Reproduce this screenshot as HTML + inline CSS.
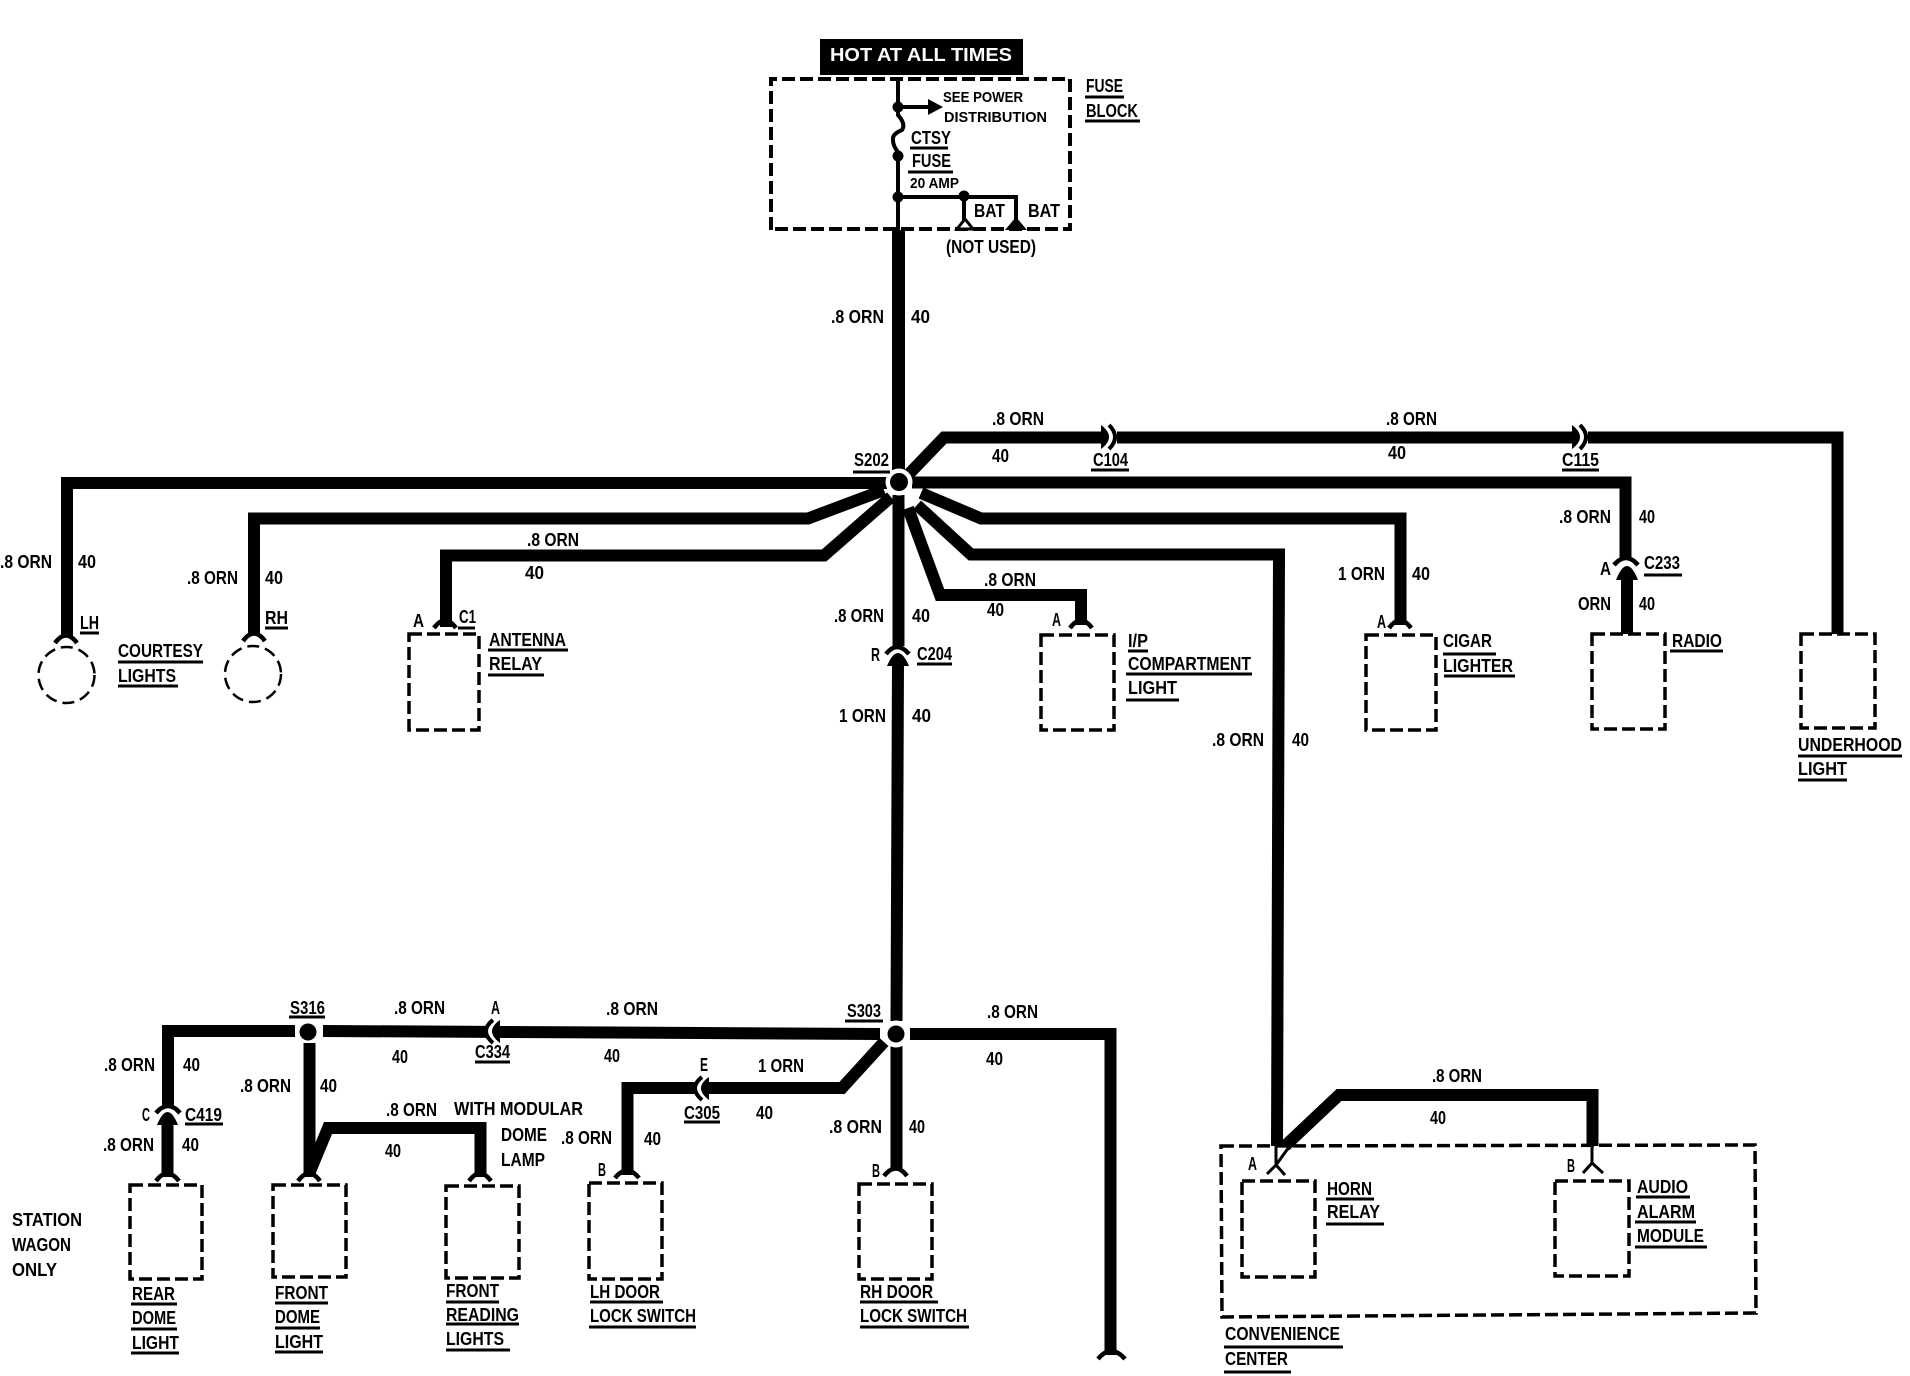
<!DOCTYPE html>
<html><head><meta charset="utf-8"><style>
html,body{margin:0;padding:0;background:#fff}
svg{display:block}
text{font-family:"Liberation Sans",sans-serif;font-weight:bold;font-size:18px;fill:#000}
.s{font-size:15px}
.w{fill:none;stroke:#000;stroke-linejoin:miter;stroke-linecap:butt}
.b{fill:none;stroke:#000;stroke-width:3.5;stroke-dasharray:13 5}
</style></head><body>
<svg width="1910" height="1376" viewBox="0 0 1910 1376" xmlns="http://www.w3.org/2000/svg">
<rect width="1910" height="1376" fill="#fff"/>

<!-- header -->
<rect x="820" y="39" width="203" height="36" fill="#000"/>
<text x="830" y="61" textLength="182" lengthAdjust="spacingAndGlyphs" style="fill:#fff">HOT AT ALL TIMES</text>

<!-- fuse block -->
<path class="b" style="stroke-width:4" d="M771 230V79H1070V229H771"/>
<g class="w" style="stroke-width:4">
<path d="M898 79V115Q906 124 902 130Q892 134 893 140Q893 146 898 152V230"/>
<path d="M898 107H930"/>
<path d="M898 197H1016V223"/>
<path d="M964 197V223"/>
</g>
<path d="M928 99L943 107L928 115Z" fill="#000"/>
<circle cx="898" cy="107" r="5.5"/><circle cx="898" cy="156" r="5.5"/><circle cx="898" cy="197" r="5.5"/><circle cx="964" cy="196" r="5.5"/>
<path d="M957 229L965 219L973 229Z" fill="#fff" stroke="#000" stroke-width="3"/>
<path d="M1005 230L1016 217L1027 230Z" fill="#000"/>
<text class="s" x="943" y="102" textLength="80" lengthAdjust="spacingAndGlyphs">SEE POWER</text>
<text class="s" x="944" y="122" textLength="103" lengthAdjust="spacingAndGlyphs">DISTRIBUTION</text>
<text x="911" y="144" textLength="40" lengthAdjust="spacingAndGlyphs">CTSY</text>
<text x="912" y="167" textLength="39" lengthAdjust="spacingAndGlyphs">FUSE</text>
<text class="s" x="910" y="188" textLength="49" lengthAdjust="spacingAndGlyphs">20 AMP</text>
<text x="974" y="217" textLength="31" lengthAdjust="spacingAndGlyphs">BAT</text>
<text x="1028" y="217" textLength="32" lengthAdjust="spacingAndGlyphs">BAT</text>
<text x="946" y="253" textLength="90" lengthAdjust="spacingAndGlyphs">(NOT USED)</text>
<text x="1086" y="92" textLength="37" lengthAdjust="spacingAndGlyphs">FUSE</text>
<text x="1086" y="117" textLength="52" lengthAdjust="spacingAndGlyphs">BLOCK</text>

<!-- thick wires -->
<path class="w" style="stroke-width:13" d="M898.5 230V470"/>
<g class="w" style="stroke-width:12">
<path d="M898.5 495V646"/>
<path d="M898 660L896.5 1021"/>
<path d="M887 483H67V636"/>
<path d="M884 490L808 518.5H254V634"/>
<path d="M891 497L824 555.5H446V627"/>
<path d="M908 475L944 437.5H1837.5V634"/>
<path d="M912 482.5H1625.5V558"/>
<path d="M1627 574V634"/>
<path d="M921 493L981 518.5H1400.5V625"/>
<path d="M917 505L971 554.5H1279L1277 1146"/>
<path d="M908 508L940 595H1081V625"/>
<path d="M295 1031H168V1105"/>
<path d="M167.500 1118V1177"/>
<path d="M323 1031L880 1034"/>
<path d="M309.500 1043V1177"/>
<path d="M309 1174L328 1128H480.500V1177"/>
<path d="M910 1034L1110.500 1034V1355"/>
<path d="M896.500 1045V1170"/>
<path d="M884 1042L842 1088H627.500V1175"/>
<path d="M1285 1146L1339 1095H1592.500V1146"/>
</g>

<!-- splices -->
<circle cx="899" cy="482" r="13.500" fill="#fff"/><circle cx="899" cy="482" r="9"/>
<circle cx="308" cy="1032" r="8.500"/>
<circle cx="896" cy="1034" r="13.500" fill="#fff"/><circle cx="896" cy="1034" r="8.500"/>

<!-- inline connector gaps -->
<g fill="#fff">
<rect x="1101" y="424" width="16" height="27"/>
<rect x="1572" y="424" width="16" height="27"/>
<rect x="486" y="1018" width="14" height="27"/>
<rect x="695" y="1074" width="14" height="27"/>
</g>
<!-- C104 / C115 lens + arc -->
<g fill="#000">
<path d="M1101 425Q1117 437 1101 449Z"/>
<path d="M1572 425Q1588 437 1572 449Z"/>
<path d="M500 1020Q484 1031 500 1043Z"/>
<path d="M709 1077Q693 1088 709 1100Z"/>
</g>
<g class="w" style="stroke-width:4">
<path d="M1109 425Q1121 437 1109 449"/>
<path d="M1580 425Q1592 437 1580 449"/>
<path d="M493 1020Q479 1031 493 1043"/>
<path d="M702 1077Q688 1088 702 1100"/>
</g>

<!-- connector symbols -->
<g class="w" style="stroke-width:4.500">
<path d="M55 643Q66 628 77 643"/>
<path d="M243 641Q254 626 265 641"/>
<path d="M434 628Q445 613 456 628"/>
<path d="M1070 628Q1081 613 1092 628"/>
<path d="M1389 628Q1400 613 1411 628"/>
<path d="M156 1181Q167 1166 179 1181"/>
<path d="M298 1181Q309 1166 320 1181"/>
<path d="M469 1181Q480 1166 491 1181"/>
<path d="M615 1178Q627 1163 639 1178"/>
<path d="M884 1176Q896 1161 907 1176"/>
<path d="M1098 1359Q1111 1343 1125 1359"/>
<path d="M886 654Q897 640 909 654"/>
<path d="M156 1113Q168 1099 180 1113"/>
<path d="M1614 565Q1626 551 1638 565"/>
</g>
<g fill="#000">
<path d="M887 666Q898 640 909 666Z"/>
<path d="M157 1125Q167.500 1099 178 1125Z"/>
<path d="M1616 580Q1627 552 1638 580Z"/>
</g>
<g class="w" style="stroke-width:3">
<path d="M1276 1146V1165L1267 1174M1276 1165L1285 1175"/>
<path d="M1289 1147L1276 1165"/>
<path d="M1592 1146V1163L1583 1173M1592 1163L1603 1173"/>
</g>

<!-- devices -->
<ellipse class="b" style="stroke-width:2.500;stroke-dasharray:12 6" cx="66.500" cy="675" rx="28" ry="28"/>
<ellipse class="b" style="stroke-width:2.500;stroke-dasharray:12 6" cx="253" cy="674" rx="28" ry="28"/>
<rect class="b" x="409" y="634" width="70" height="96"/>
<rect class="b" x="1041" y="635" width="73" height="95"/>
<rect class="b" x="1366" y="635" width="70" height="95"/>
<rect class="b" x="1592" y="634" width="73" height="95"/>
<rect class="b" x="1801" y="634" width="74" height="94"/>
<rect class="b" x="130" y="1185" width="72" height="94"/>
<rect class="b" x="273" y="1185" width="73" height="92"/>
<rect class="b" x="446" y="1186" width="73" height="92"/>
<rect class="b" x="589" y="1183" width="73" height="96"/>
<rect class="b" x="859" y="1184" width="73" height="95"/>
<rect class="b" x="1242" y="1181" width="73" height="96"/>
<rect class="b" x="1555" y="1181" width="74" height="95"/>
<path class="b" d="M1221 1146L1755 1145L1756 1313L1222 1317Z"/>

<!-- underlines -->
<path class="w" style="stroke-width:3" d="M910 148H948M908 172H953M1085 97H1124M1085 121H1140M80 633H99M265 628H288M118 662H203M118 686H178M458 628H475M488 650H568M488 675H544M853 472H890M917 664H952M1091 470H1129M1562 470H1599M1644 575H1682M1670 651H1723M1128 651H1148M1126 674H1252M1126 700H1179M1443 654H1496M1444 676H1515M1798 756H1902M1798 780H1847M289 1017H325M475 1062H510M185 1124H223M131 1304H177M131 1329H177M131 1353H179M275 1303H328M275 1328H320M275 1352H323M446 1302H499M446 1324H519M446 1350H510M590 1302H663M589 1327H696M684 1122H720M845 1021H883M860 1302H938M860 1327H969M1326 1199H1374M1326 1224H1384M1636 1197H1690M1635 1222H1696M1635 1247H1707M1224 1347H1343M1224 1372H1291"/>

<!-- labels top -->
<text x="831" y="323" textLength="53" lengthAdjust="spacingAndGlyphs">.8 ORN</text>
<text x="911" y="323" textLength="19" lengthAdjust="spacingAndGlyphs">40</text>
<text x="0" y="568" textLength="52" lengthAdjust="spacingAndGlyphs">.8 ORN</text>
<text x="78" y="568" textLength="18" lengthAdjust="spacingAndGlyphs">40</text>
<text x="187" y="584" textLength="51" lengthAdjust="spacingAndGlyphs">.8 ORN</text>
<text x="265" y="584" textLength="18" lengthAdjust="spacingAndGlyphs">40</text>
<text x="527" y="546" textLength="52" lengthAdjust="spacingAndGlyphs">.8 ORN</text>
<text x="525" y="579" textLength="19" lengthAdjust="spacingAndGlyphs">40</text>
<text x="80" y="629" textLength="19" lengthAdjust="spacingAndGlyphs">LH</text>
<text x="265" y="624" textLength="23" lengthAdjust="spacingAndGlyphs">RH</text>
<text x="118" y="657" textLength="85" lengthAdjust="spacingAndGlyphs">COURTESY</text>
<text x="118" y="682" textLength="58" lengthAdjust="spacingAndGlyphs">LIGHTS</text>
<text x="413" y="627" textLength="11" lengthAdjust="spacingAndGlyphs">A</text>
<text x="459" y="623" textLength="17" lengthAdjust="spacingAndGlyphs">C1</text>
<text x="489" y="646" textLength="77" lengthAdjust="spacingAndGlyphs">ANTENNA</text>
<text x="489" y="670" textLength="53" lengthAdjust="spacingAndGlyphs">RELAY</text>
<text x="854" y="466" textLength="35" lengthAdjust="spacingAndGlyphs">S202</text>
<text x="834" y="622" textLength="50" lengthAdjust="spacingAndGlyphs">.8 ORN</text>
<text x="912" y="622" textLength="18" lengthAdjust="spacingAndGlyphs">40</text>
<text x="871" y="661" textLength="9" lengthAdjust="spacingAndGlyphs">R</text>
<text x="917" y="660" textLength="35" lengthAdjust="spacingAndGlyphs">C204</text>
<text x="839" y="722" textLength="47" lengthAdjust="spacingAndGlyphs">1 ORN</text>
<text x="912" y="722" textLength="19" lengthAdjust="spacingAndGlyphs">40</text>
<text x="992" y="425" textLength="52" lengthAdjust="spacingAndGlyphs">.8 ORN</text>
<text x="992" y="462" textLength="17" lengthAdjust="spacingAndGlyphs">40</text>
<text x="1093" y="466" textLength="35" lengthAdjust="spacingAndGlyphs">C104</text>
<text x="1386" y="425" textLength="51" lengthAdjust="spacingAndGlyphs">.8 ORN</text>
<text x="1388" y="459" textLength="18" lengthAdjust="spacingAndGlyphs">40</text>
<text x="1562" y="466" textLength="37" lengthAdjust="spacingAndGlyphs">C115</text>
<text x="1559" y="523" textLength="52" lengthAdjust="spacingAndGlyphs">.8 ORN</text>
<text x="1639" y="523" textLength="16" lengthAdjust="spacingAndGlyphs">40</text>
<text x="1600" y="575" textLength="11" lengthAdjust="spacingAndGlyphs">A</text>
<text x="1644" y="569" textLength="36" lengthAdjust="spacingAndGlyphs">C233</text>
<text x="1578" y="610" textLength="33" lengthAdjust="spacingAndGlyphs">ORN</text>
<text x="1639" y="610" textLength="16" lengthAdjust="spacingAndGlyphs">40</text>
<text x="1672" y="647" textLength="50" lengthAdjust="spacingAndGlyphs">RADIO</text>
<text x="1377" y="628" textLength="9" lengthAdjust="spacingAndGlyphs">A</text>
<text x="1338" y="580" textLength="47" lengthAdjust="spacingAndGlyphs">1 ORN</text>
<text x="1412" y="580" textLength="18" lengthAdjust="spacingAndGlyphs">40</text>
<text x="1443" y="647" textLength="49" lengthAdjust="spacingAndGlyphs">CIGAR</text>
<text x="1443" y="672" textLength="70" lengthAdjust="spacingAndGlyphs">LIGHTER</text>
<text x="1212" y="746" textLength="52" lengthAdjust="spacingAndGlyphs">.8 ORN</text>
<text x="1292" y="746" textLength="17" lengthAdjust="spacingAndGlyphs">40</text>
<text x="1052" y="626" textLength="9" lengthAdjust="spacingAndGlyphs">A</text>
<text x="984" y="586" textLength="52" lengthAdjust="spacingAndGlyphs">.8 ORN</text>
<text x="987" y="616" textLength="17" lengthAdjust="spacingAndGlyphs">40</text>
<text x="1128" y="647" textLength="20" lengthAdjust="spacingAndGlyphs">I/P</text>
<text x="1128" y="670" textLength="123" lengthAdjust="spacingAndGlyphs">COMPARTMENT</text>
<text x="1128" y="694" textLength="49" lengthAdjust="spacingAndGlyphs">LIGHT</text>
<text x="1798" y="751" textLength="104" lengthAdjust="spacingAndGlyphs">UNDERHOOD</text>
<text x="1798" y="775" textLength="49" lengthAdjust="spacingAndGlyphs">LIGHT</text>

<!-- labels bottom left -->
<text x="290" y="1014" textLength="35" lengthAdjust="spacingAndGlyphs">S316</text>
<text x="394" y="1014" textLength="51" lengthAdjust="spacingAndGlyphs">.8 ORN</text>
<text x="491" y="1014" textLength="9" lengthAdjust="spacingAndGlyphs">A</text>
<text x="392" y="1063" textLength="16" lengthAdjust="spacingAndGlyphs">40</text>
<text x="475" y="1058" textLength="35" lengthAdjust="spacingAndGlyphs">C334</text>
<text x="606" y="1015" textLength="52" lengthAdjust="spacingAndGlyphs">.8 ORN</text>
<text x="604" y="1062" textLength="16" lengthAdjust="spacingAndGlyphs">40</text>
<text x="104" y="1071" textLength="51" lengthAdjust="spacingAndGlyphs">.8 ORN</text>
<text x="183" y="1071" textLength="17" lengthAdjust="spacingAndGlyphs">40</text>
<text x="142" y="1121" textLength="8" lengthAdjust="spacingAndGlyphs">C</text>
<text x="185" y="1121" textLength="37" lengthAdjust="spacingAndGlyphs">C419</text>
<text x="103" y="1151" textLength="51" lengthAdjust="spacingAndGlyphs">.8 ORN</text>
<text x="182" y="1151" textLength="17" lengthAdjust="spacingAndGlyphs">40</text>
<text x="240" y="1092" textLength="51" lengthAdjust="spacingAndGlyphs">.8 ORN</text>
<text x="320" y="1092" textLength="17" lengthAdjust="spacingAndGlyphs">40</text>
<text x="386" y="1116" textLength="51" lengthAdjust="spacingAndGlyphs">.8 ORN</text>
<text x="385" y="1157" textLength="16" lengthAdjust="spacingAndGlyphs">40</text>
<text x="454" y="1115" textLength="129" lengthAdjust="spacingAndGlyphs">WITH MODULAR</text>
<text x="501" y="1141" textLength="46" lengthAdjust="spacingAndGlyphs">DOME</text>
<text x="501" y="1166" textLength="44" lengthAdjust="spacingAndGlyphs">LAMP</text>
<text x="561" y="1144" textLength="51" lengthAdjust="spacingAndGlyphs">.8 ORN</text>
<text x="644" y="1145" textLength="17" lengthAdjust="spacingAndGlyphs">40</text>
<text x="598" y="1176" textLength="8" lengthAdjust="spacingAndGlyphs">B</text>
<text x="12" y="1226" textLength="70" lengthAdjust="spacingAndGlyphs">STATION</text>
<text x="12" y="1251" textLength="59" lengthAdjust="spacingAndGlyphs">WAGON</text>
<text x="12" y="1276" textLength="45" lengthAdjust="spacingAndGlyphs">ONLY</text>
<text x="132" y="1300" textLength="43" lengthAdjust="spacingAndGlyphs">REAR</text>
<text x="132" y="1324" textLength="44" lengthAdjust="spacingAndGlyphs">DOME</text>
<text x="132" y="1349" textLength="47" lengthAdjust="spacingAndGlyphs">LIGHT</text>
<text x="275" y="1299" textLength="53" lengthAdjust="spacingAndGlyphs">FRONT</text>
<text x="275" y="1323" textLength="45" lengthAdjust="spacingAndGlyphs">DOME</text>
<text x="275" y="1348" textLength="48" lengthAdjust="spacingAndGlyphs">LIGHT</text>
<text x="446" y="1297" textLength="53" lengthAdjust="spacingAndGlyphs">FRONT</text>
<text x="446" y="1321" textLength="73" lengthAdjust="spacingAndGlyphs">READING</text>
<text x="446" y="1345" textLength="58" lengthAdjust="spacingAndGlyphs">LIGHTS</text>
<text x="590" y="1298" textLength="70" lengthAdjust="spacingAndGlyphs">LH DOOR</text>
<text x="590" y="1322" textLength="106" lengthAdjust="spacingAndGlyphs">LOCK SWITCH</text>

<!-- labels bottom middle -->
<text x="847" y="1017" textLength="34" lengthAdjust="spacingAndGlyphs">S303</text>
<text x="987" y="1018" textLength="51" lengthAdjust="spacingAndGlyphs">.8 ORN</text>
<text x="986" y="1065" textLength="17" lengthAdjust="spacingAndGlyphs">40</text>
<text x="700" y="1071" textLength="8" lengthAdjust="spacingAndGlyphs">E</text>
<text x="758" y="1072" textLength="46" lengthAdjust="spacingAndGlyphs">1 ORN</text>
<text x="756" y="1119" textLength="17" lengthAdjust="spacingAndGlyphs">40</text>
<text x="684" y="1119" textLength="36" lengthAdjust="spacingAndGlyphs">C305</text>
<text x="829" y="1133" textLength="53" lengthAdjust="spacingAndGlyphs">.8 ORN</text>
<text x="909" y="1133" textLength="16" lengthAdjust="spacingAndGlyphs">40</text>
<text x="872" y="1177" textLength="8" lengthAdjust="spacingAndGlyphs">B</text>
<text x="860" y="1298" textLength="73" lengthAdjust="spacingAndGlyphs">RH DOOR</text>
<text x="860" y="1322" textLength="107" lengthAdjust="spacingAndGlyphs">LOCK SWITCH</text>

<!-- labels convenience center -->
<text x="1432" y="1082" textLength="50" lengthAdjust="spacingAndGlyphs">.8 ORN</text>
<text x="1430" y="1124" textLength="16" lengthAdjust="spacingAndGlyphs">40</text>
<text x="1248" y="1170" textLength="9" lengthAdjust="spacingAndGlyphs">A</text>
<text x="1567" y="1172" textLength="8" lengthAdjust="spacingAndGlyphs">B</text>
<text x="1327" y="1195" textLength="45" lengthAdjust="spacingAndGlyphs">HORN</text>
<text x="1327" y="1218" textLength="53" lengthAdjust="spacingAndGlyphs">RELAY</text>
<text x="1637" y="1193" textLength="51" lengthAdjust="spacingAndGlyphs">AUDIO</text>
<text x="1637" y="1218" textLength="58" lengthAdjust="spacingAndGlyphs">ALARM</text>
<text x="1637" y="1242" textLength="67" lengthAdjust="spacingAndGlyphs">MODULE</text>
<text x="1225" y="1340" textLength="115" lengthAdjust="spacingAndGlyphs">CONVENIENCE</text>
<text x="1225" y="1365" textLength="63" lengthAdjust="spacingAndGlyphs">CENTER</text>
</svg>
</body></html>
